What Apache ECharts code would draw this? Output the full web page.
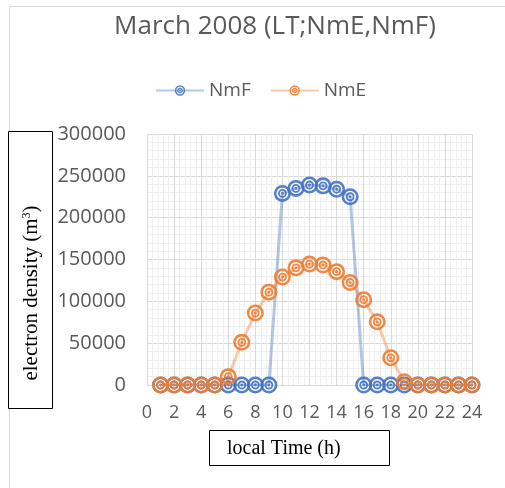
<!DOCTYPE html>
<html>
<head>
<meta charset="utf-8">
<script src="https://cdn.jsdelivr.net/npm/echarts@6/dist/echarts.min.js"></script>
<style>html,body{margin:0;padding:0;background:#fff}#c{width:505px;height:488px}</style>
</head>
<body>
<div id="c"></div>
<script>
const hours = [1,2,3,4,5,6,7,8,9,10,11,12,13,14,15,16,17,18,19,20,21,22,23,24];
const nmF = [0,0,0,0,0,0,0,0,0,229000,235000,239000,238000,234000,225000,0,0,0,0,0,0,0,0,0];
const nmE = [0,0,0,0,0,10000,51000,86000,111000,129000,140000,144500,143500,135500,122500,102000,75500,32500,4000,0,0,0,0,0];
const xTicks = [0,2,4,6,8,10,12,14,16,18,20,22,24];
const yTicks = [0,50000,100000,150000,200000,250000,300000];

const ring = 'path://M0,50A50,50 0 1,1 100,50A50,50 0 1,1 0,50Z' +
  'M15,50A35,35 0 1,0 85,50A35,35 0 1,0 15,50Z' +
  'M24,50A26,26 0 1,1 76,50A26,26 0 1,1 24,50Z' +
  'M35,50A15,15 0 1,0 65,50A15,15 0 1,0 35,50Z' +
  'M42,50A8,8 0 1,1 58,50A8,8 0 1,1 42,50Z';

const font = '"Open Sans", sans-serif';
const chart = echarts.init(document.getElementById('c'));
function mk(name, vals, color){
  return {
    name: name, type: 'line',
    data: hours.map((h,i)=>[h, vals[i]]),
    symbol: ring, symbolSize: 17,
    itemStyle: {color: color, opacity: 0.9},
    lineStyle: {color: color, width: 3, opacity: 0.4},
    emphasis: {disabled: true}
  };
}
chart.setOption({
  animation: false,
  title: {
    text: 'March 2008 (LT;NmE,NmF)', left: 270, top: 9, textAlign: 'center',
    textStyle: {fontFamily: font, fontSize: 26, fontWeight: 'normal', color: '#595959'}
  },
  legend: {
    top: 76, left: 150, itemWidth: 48, itemHeight: 13, itemGap: 19,
    data: ['NmF','NmE'],
    textStyle: {fontFamily: font, fontSize: 19, color: '#595959'}
  },
  grid: {left: 147, right: 33, top: 134, bottom: 103},
  xAxis: {
    type: 'value', min: xTicks[0], max: xTicks[xTicks.length-1], interval: 2,
    axisLine: {show: false}, axisTick: {show: false},
    axisLabel: {fontFamily: font, fontSize: 18, color: '#595959', margin: 19},
    splitLine: {show: true, lineStyle: {color: '#d9d9d9', width: 1}},
    minorTick: {show: false, splitNumber: 5},
    minorSplitLine: {show: true, lineStyle: {color: '#efefef', width: 1}}
  },
  yAxis: {
    type: 'value', min: yTicks[0], max: yTicks[yTicks.length-1], interval: 50000,
    axisLine: {show: false}, axisTick: {show: false},
    axisLabel: {fontFamily: font, fontSize: 20, color: '#595959', margin: 21, formatter: v => String(v)},
    splitLine: {show: true, lineStyle: {color: '#d9d9d9', width: 1}},
    minorTick: {show: false, splitNumber: 5},
    minorSplitLine: {show: true, lineStyle: {color: '#efefef', width: 1}}
  },
  series: [mk('NmF', nmF, '#4472C4'), mk('NmE', nmE, '#ED7D31')],
  graphic: [
    {type: 'rect', silent: true, z: -10, shape: {x: 9.5, y: 6.5, width: 700, height: 700},
     style: {fill: 'none', stroke: '#d9d9d9', lineWidth: 1}},
    {type: 'rect', silent: true, shape: {x: 8.5, y: 131.5, width: 44, height: 277},
     style: {fill: '#fff', stroke: '#000', lineWidth: 1}},
    {type: 'text', silent: true, x: 31, y: 293, rotation: Math.PI/2,
     style: {text: 'electron density (m{s|3})', fill: '#000', align: 'center', verticalAlign: 'middle',
       font: '21px "Liberation Serif", serif',
       rich: {s: {fontSize: 12, fontFamily: '"Liberation Serif", serif', verticalAlign: 'top', fill: '#000', padding: [0,0,8,0]}}}},
    {type: 'rect', silent: true, shape: {x: 209.5, y: 430.5, width: 180, height: 35},
     style: {fill: '#fff', stroke: '#000', lineWidth: 1}},
    {type: 'text', silent: true, x: 227, y: 449,
     style: {text: 'local Time (h)', fill: '#000', verticalAlign: 'middle', font: '20px "Liberation Serif", serif'}}
  ]
});
</script>
</body>
</html>
